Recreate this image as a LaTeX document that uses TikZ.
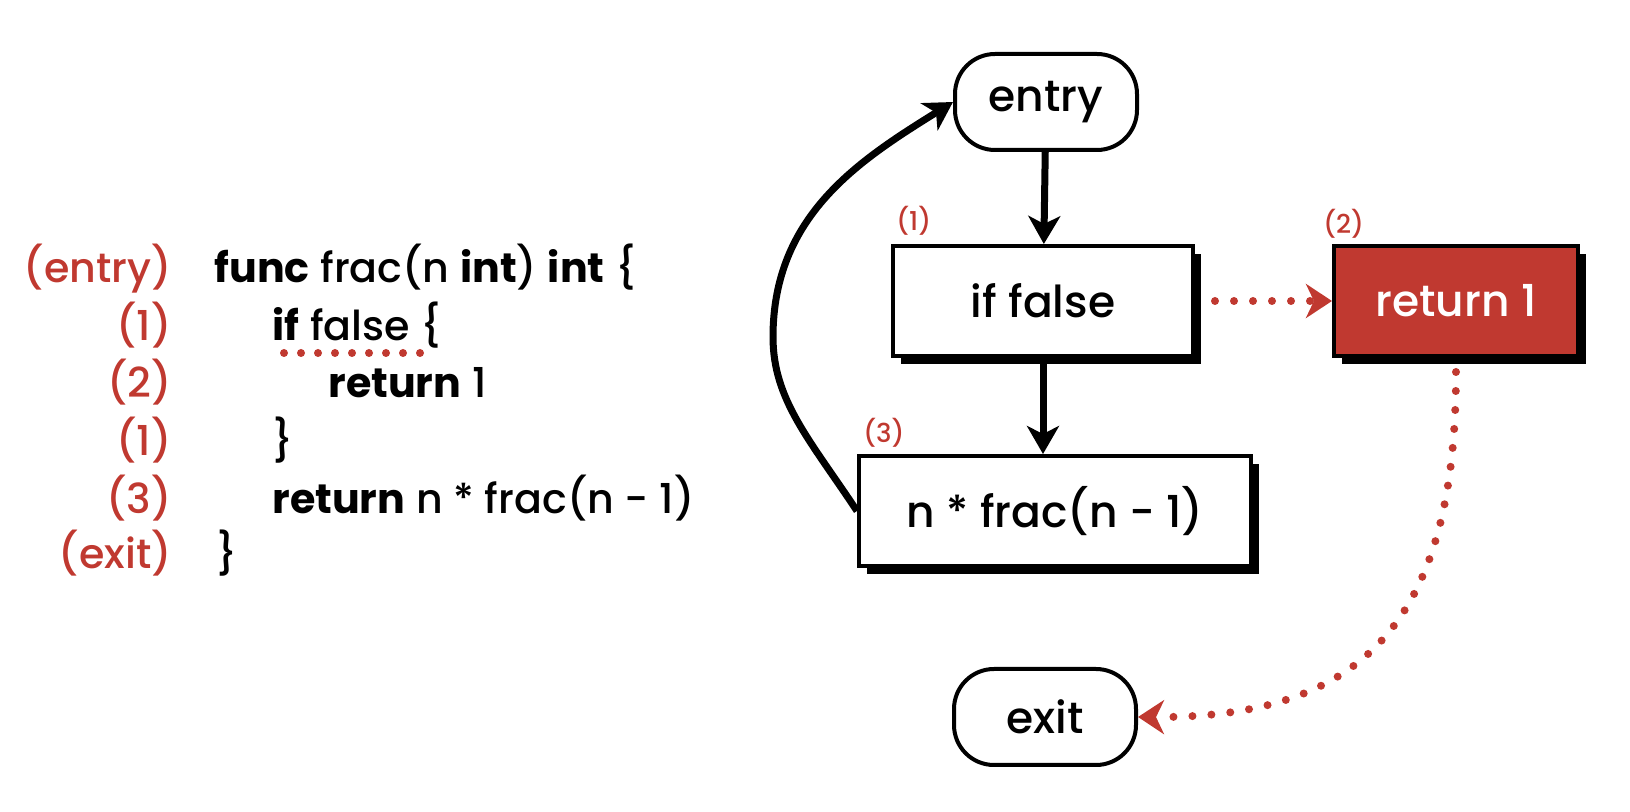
\documentclass[tikz,border=0pt]{standalone}
\usepackage{fontspec}
\setmainfont{Poppins}[UprightFont=* Medium, BoldFont=* Bold]
\usetikzlibrary{arrows.meta,shadows}
\definecolor{cfgred}{RGB}{192,57,48}

\tikzset{
  block/.style={draw=black, line width=2pt, fill=white, minimum width=#1, minimum height=55pt,
    font=\fontsize{22}{26}\selectfont,
    drop shadow={shadow xshift=4pt, shadow yshift=-4pt, fill=black, opacity=1}},
  terminal/.style={draw=black, line width=2pt, rounded corners=20pt, fill=white,
    minimum width=91pt, minimum height=48pt, font=\fontsize{22}{26}\selectfont},
  flow/.style={line width=3.5pt, -{Stealth[length=14pt, width=16pt, inset=4pt]}},
  redflow/.style={cfgred, line width=4pt, line cap=round, dash pattern=on 0pt off 9.5pt,
    -{Stealth[length=13pt, width=17pt, inset=4pt]}},
  numlabel/.style={anchor=base west, inner sep=0pt, text=cfgred, font=\fontsize{13}{15}\selectfont},
  codeline/.style={anchor=base west, inner sep=0pt, font=\fontsize{20.6}{24}\selectfont},
  codenum/.style={anchor=base east, inner sep=0pt, text=cfgred, font=\fontsize{20.6}{24}\selectfont},
}

\begin{document}
\begin{tikzpicture}[x=0.5pt, y=-0.5pt]
  \useasboundingbox (0,0) rectangle (1630,812);

  %%%%% CODE %%%%%
  \node[codenum] (tag0) at (172,283) {(entry)};
  \node[codenum] (tag1) at (172,341) {(1)};
  \node[codenum] (tag2) at (172,398) {(2)};
  \node[codenum] (tag3) at (172,456) {(1)};
  \node[codenum] (tag4) at (172,514) {(3)};
  \node[codenum] (tag5) at (172,569) {(exit)};

  \node[codeline] (code0) at (214,283) {\textbf{func} frac(n \textbf{int}) \textbf{int} \{};
  \node[codeline] (code1) at (272,341) {\textbf{if} false \{};
  \node[codeline] (code2) at (328,398) {\textbf{return} 1};
  \node[codeline] (code3) at (272,456) {\}};
  \node[codeline] (code4) at (272,514) {\textbf{return} n * frac(n - 1)};
  \node[codeline] (code5) at (216,569) {\}};

  \draw[cfgred, line width=4pt, line cap=round, dash pattern=on 0pt off 8.5pt] (284,353) -- (420,353);

  %%%%% GRAPH %%%%%
  \node[terminal] (entry) at (1046,102) {entry};
  \node[block=150pt] (iffalse) at (1043,301) {if false};
  \node[block=122pt, fill=cfgred, text=white] (ret) at (1456,301) {return 1};
  \node[block=196pt] (frac) at (1055,511) {n * frac(n - 1)};
  \node[terminal] (exit) at (1045,717) {exit};

  \node[numlabel] (num1) at (896,231) {(1)};
  \node[numlabel] (num2) at (1323,234) {(2)};
  \node[numlabel] (num3) at (863,443) {(3)};

  \draw[flow] (entry) -- (iffalse);
  \draw[flow] (iffalse.south) -- (iffalse.south |- frac.north);
  \draw[flow] (frac.west) .. controls (810,440) and (773,400) .. (773,337)
    .. controls (773,215) and (860,160) .. (entry.west);

  \draw[redflow, shorten <=10pt] (iffalse.east) -- (ret.west);
  \draw[redflow, shorten <=7pt] (ret.south) .. controls (1456,625) and (1360,718) .. (exit.east);

\end{tikzpicture}
\end{document}
